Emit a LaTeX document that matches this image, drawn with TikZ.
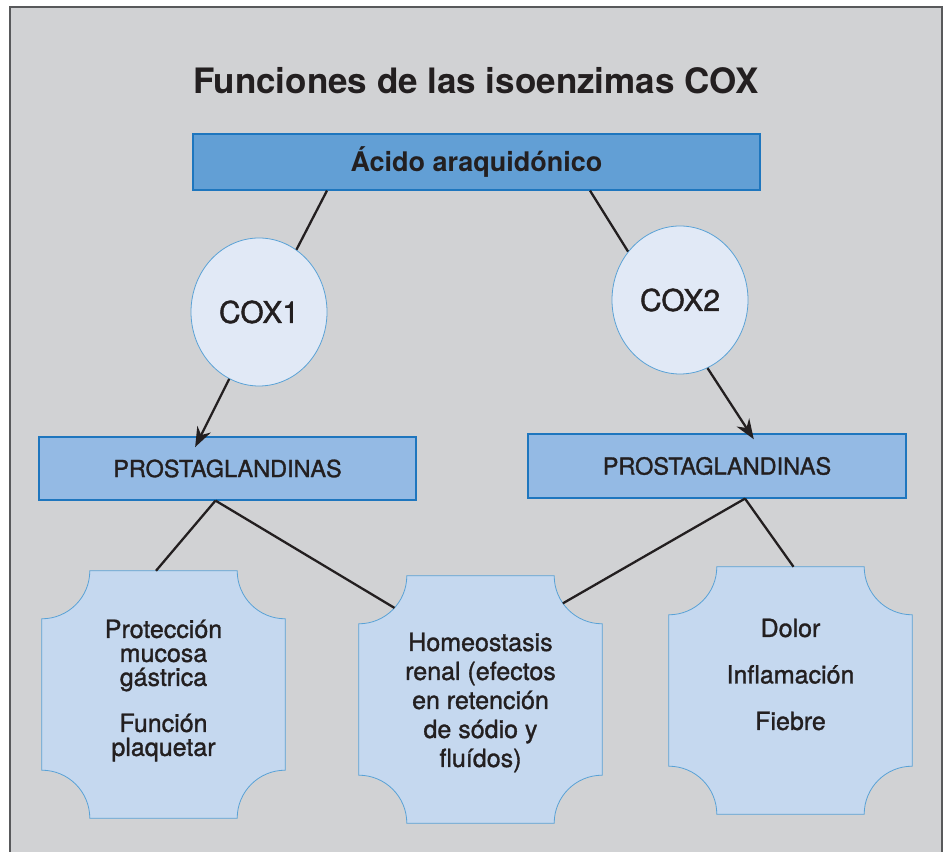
\documentclass[tikz,border=0pt]{standalone}
\usepackage{fontspec}
\setmainfont{TeX Gyre Heros}
\newfontfamily\mediumfont[FakeBold=1.3]{TeX Gyre Heros}
\usetikzlibrary{arrows.meta,positioning,shapes.geometric}
\definecolor{panelgray}{HTML}{D1D2D4}
\definecolor{framegray}{HTML}{58595B}
\definecolor{inkcolor}{HTML}{231F20}
\definecolor{topblue}{HTML}{629FD5}
\definecolor{edgeblue}{HTML}{1E76BE}
\definecolor{prostblue}{HTML}{94BAE4}
\definecolor{coxfill}{HTML}{E1E9F6}
\definecolor{paleedge}{HTML}{5AA2D6}
\definecolor{notchfill}{HTML}{C5D8EF}
\tikzset{
    titletext/.style={font=\fontsize{35}{42}\selectfont\bfseries},
    topbox/.style={draw=edgeblue, line width=1.2pt, fill=topblue, minimum width=567, minimum height=56, inner sep=0pt, font=\fontsize{27}{32}\selectfont\bfseries},
    prostbox/.style={draw=edgeblue, line width=1.2pt, fill=prostblue, minimum width=377, minimum height=63, inner sep=0pt, font=\mediumfont\fontsize{23.5}{28}\selectfont},
    coxnode/.style={ellipse, draw=paleedge, line width=0.8pt, fill=coxfill, minimum width=136, minimum height=148, inner sep=0pt, font=\mediumfont\fontsize{30}{36}\selectfont},
    notchbox/.style={rectangle, minimum width=243, minimum height=247, inner sep=0pt},
    notchline/.style={draw=paleedge, line width=0.8pt, fill=notchfill},
    boxtext/.style={align=center, inner sep=0pt},
    link/.style={draw=inkcolor, line width=2.3pt},
    arrowlink/.style={link, -{Stealth[length=20pt, width=15pt]}}
}
\def\notchr{48pt}
% box with concave corners, drawn round an empty node
\newcommand{\notchpath}[1]{%
    \path[notchline] ([xshift=\notchr]#1.north west) -- ([xshift=-\notchr]#1.north east)
        arc[start angle=180, end angle=270, radius=\notchr]
        -- ([yshift=\notchr]#1.south east)
        arc[start angle=90, end angle=180, radius=\notchr]
        -- ([xshift=\notchr]#1.south west)
        arc[start angle=0, end angle=90, radius=\notchr]
        -- ([yshift=-\notchr]#1.north west)
        arc[start angle=270, end angle=360, radius=\notchr] -- cycle;}

\begin{document}
\begin{tikzpicture}[x=1pt, y=1pt, text=inkcolor]
    \useasboundingbox (0,0) rectangle (947,851);
    \fill[white] (0,0) rectangle (947,851);
    \draw[framegray, line width=1.5pt, fill=panelgray] (10,-20) rectangle (942,844);

    \node[titletext, anchor=base] (title) at (476,757) {Funciones de las isoenzimas COX};
    \node[topbox] (acido) at (476.5,689) {Ácido araquidónico};

    \node[coxnode] (cox1) at (259,539) {COX1};
    \node[coxnode] (cox2) at (680,551) {COX2};

    \node[prostbox] (prost1) at (227.5,382.5) {PROSTAGLANDINAS};
    \node[prostbox, minimum width=378, minimum height=64] (prost2) at (717,385) {PROSTAGLANDINAS};

    % effect boxes
    \node[notchbox] (gastro) at (163.5,156.5) {};
    \node[notchbox] (renal) at (480.5,151.5) {};
    \node[notchbox] (dolor) at (790.5,160.5) {};
    \notchpath{gastro}
    \notchpath{renal}
    \notchpath{dolor}

    \node[boxtext, font=\mediumfont\fontsize{25}{24}\selectfont] (gastrotxt) at ([yshift=4pt]gastro.center)
        {Protección\\mucosa\\gástrica\\[22pt]Función\\plaquetar};
    \node[boxtext, font=\mediumfont\fontsize{25}{29}\selectfont] (renaltxt) at ([yshift=-3pt]renal.center)
        {Homeostasis\\renal (efectos\\en retención\\de sódio y\\fluídos)};
    \node[boxtext, font=\mediumfont\fontsize{25}{46.5}\selectfont] (dolortxt) at ([yshift=16pt]dolor.center)
        {Dolor\\Inflamación\\Fiebre};

    % connectors
    \draw[link] ([xshift=-149.5pt]acido.south) -- (cox1.59);
    \draw[link] ([xshift=113.5pt]acido.south) -- (cox2.137);
    \draw[arrowlink, shorten >=-12pt] (cox1.246) -- ([xshift=-27pt]prost1.north);
    \draw[arrowlink, shorten >=-7pt] (cox2.292) -- ([xshift=33pt]prost2.north);
    \draw[link] ([xshift=-12pt]prost1.south) -- ([xshift=-7.5pt]gastro.north);
    \draw[link] ([xshift=-12pt]prost1.south) -- ([shift={(318:48pt)}]renal.north west);
    \draw[link] ([xshift=28pt]prost2.south) -- ([shift={(215:48pt)}]renal.north east);
    \draw[link] ([xshift=28pt]prost2.south) -- ([xshift=3pt]dolor.north);
\end{tikzpicture}
\end{document}
